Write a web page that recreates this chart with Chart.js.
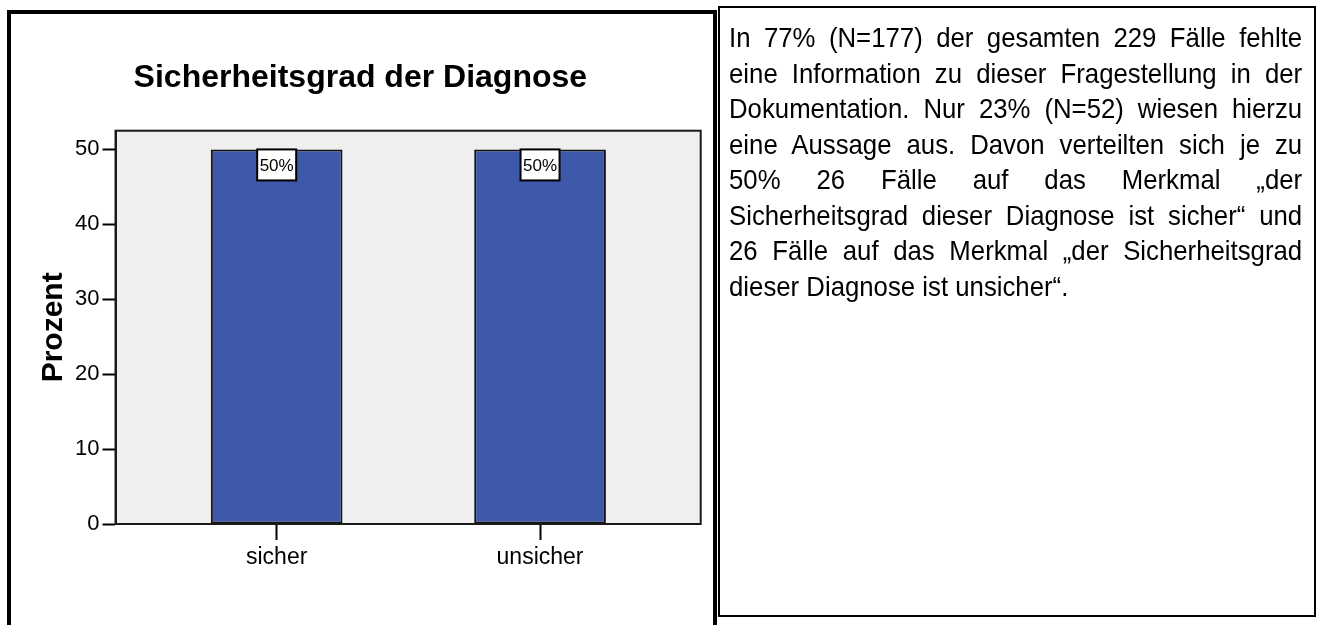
<!DOCTYPE html>
<html lang="de">
<head>
<meta charset="utf-8">
<title>Sicherheitsgrad der Diagnose</title>
<script src="https://cdn.jsdelivr.net/npm/chart.js@4/dist/chart.umd.min.js"></script>
<style>
  html, body { margin: 0; padding: 0; background: #fff; }
  body { width: 1322px; height: 625px; position: relative; overflow: hidden; font-family: 'Liberation Sans', Arial, sans-serif; }
  #chartWrap { position: absolute; left: 0; top: 0; width: 716px; height: 625px; }
  #chartFrame { position: absolute; left: 7px; top: 10px; width: 710px; height: 700px; border: 4px solid #000; box-sizing: border-box; pointer-events: none; }
  #textBox { position: absolute; left: 718px; top: 6px; width: 598px; height: 611px; border: 2px solid #000; box-sizing: border-box; }
  #textInner { position: absolute; left: 9px; top: 12px; width: 623px; transform: scaleX(0.92); transform-origin: 0 0; font-size: 28px; line-height: 35.5px; color: #000; }
  #textInner span { display: block; text-align: justify; text-align-last: justify; white-space: nowrap; }
  #textInner span.last { text-align-last: left; }
</style>
</head>
<body>
<div id="chartWrap"><canvas id="diagChart" width="716" height="625"></canvas></div>
<div id="chartFrame"></div>
<div id="textBox">
  <div id="textInner">
    <span>In 77% (N=177) der gesamten 229 Fälle fehlte</span>
    <span>eine Information zu dieser Fragestellung in der</span>
    <span>Dokumentation. Nur 23% (N=52) wiesen hierzu</span>
    <span>eine Aussage aus. Davon verteilten sich je zu</span>
    <span>50% 26 Fälle auf das Merkmal „der</span>
    <span>Sicherheitsgrad dieser Diagnose ist sicher“ und</span>
    <span>26 Fälle auf das Merkmal „der Sicherheitsgrad</span>
    <span class="last">dieser Diagnose ist unsicher“.</span>
  </div>
</div>

<script>
// Data
const categories = ['sicher', 'unsicher'];
const percentValues = [50, 50];
const valueLabels = ['50%', '50%'];
const yTicks = [0, 10, 20, 30, 40, 50];

// Grey plot background, black frame and the white "50%" boxes
const plotDecor = {
    id: 'plotDecor',
    beforeDraw(chart) {
        const { ctx, chartArea: a } = chart;
        ctx.save();
        ctx.fillStyle = '#efefef';
        ctx.fillRect(a.left, a.top, a.width, a.height);
        ctx.restore();
    },
    afterDatasetsDraw(chart) {
        const { ctx, chartArea: a } = chart;
        ctx.save();
        ctx.strokeStyle = '#1a1a1a';
        ctx.lineWidth = 2;
        ctx.strokeRect(a.left, a.top, a.width, a.height);

        // value label boxes sit on top of each bar
        const meta = chart.getDatasetMeta(0);
        meta.data.forEach(function (bar, i) {
            const w = 39, h = 31;
            const x = bar.x - w / 2;
            const y = bar.y;
            ctx.fillStyle = '#fff';
            ctx.fillRect(x, y, w, h);
            ctx.strokeStyle = '#000';
            ctx.lineWidth = 2;
            ctx.strokeRect(x, y, w, h);
            ctx.fillStyle = '#000';
            ctx.font = "17px 'Liberation Sans', Arial, sans-serif";
            ctx.textAlign = 'center';
            ctx.textBaseline = 'middle';
            ctx.fillText(valueLabels[i], bar.x, y + h / 2 + 1);
        });
        ctx.restore();
    }
};

function drawChart() {
    const ctx = document.getElementById('diagChart').getContext('2d');
    Chart.defaults.font.family = "'Liberation Sans', Arial, sans-serif";
    Chart.defaults.color = '#000';

    new Chart(ctx, {
        type: 'bar',
        data: {
            datasets: [{
                label: 'Prozent',
                data: categories.map(function (c, i) { return { x: i + 1, y: percentValues[i] }; }),
                backgroundColor: '#3e58aa',
                borderColor: '#111',
                borderWidth: 2,
                borderSkipped: false,
                barPercentage: 0.5,
                categoryPercentage: 1.0
            }]
        },
        options: {
            responsive: false,
            devicePixelRatio: 1,
            animation: false,
            layout: { padding: { left: 20, top: 13, right: 15.3, bottom: 0 } },
            plugins: {
                legend: { display: false },
                tooltip: { enabled: false },
                title: {
                    display: true,
                    text: 'Sicherheitsgrad der Diagnose',
                    color: '#000',
                    font: { size: 32, weight: 'bold' },
                    padding: { top: 46.2, bottom: 33.1 }
                }
            },
            scales: {
                x: {
                    type: 'linear',
                    offset: false,
                    min: 0.388,
                    max: 2.61,
                    afterBuildTicks: function (axis) {
                        axis.ticks = categories.map(function (c, i) { return { value: i + 1 }; });
                    },
                    afterFit: function (axis) { axis.height = 101; },
                    ticks: {
                        callback: function (value) { return categories[value - 1]; },
                        font: { size: 23 },
                        color: '#000',
                        padding: 4,
                        maxRotation: 0
                    },
                    grid: { offset: false, drawOnChartArea: false, tickLength: 16, tickWidth: 2, tickColor: '#000' },
                    border: { display: true, color: '#1a1a1a', width: 2 }
                },
                y: {
                    min: 0,
                    max: 52.5,
                    afterBuildTicks: function (axis) {
                        axis.ticks = yTicks.map(function (v) { return { value: v }; });
                    },
                    afterFit: function (axis) { axis.width = 95.5; },
                    ticks: { font: { size: 22 }, color: '#000', padding: 3 },
                    grid: { drawOnChartArea: false, tickLength: 13, tickWidth: 2, tickColor: '#000' },
                    border: { display: true, color: '#1a1a1a', width: 2 },
                    title: {
                        display: true,
                        text: 'Prozent',
                        color: '#000',
                        font: { size: 30, weight: 'bold' },
                        padding: { top: 16, bottom: 0 }
                    }
                }
            }
        },
        plugins: [plotDecor]
    });
}

document.addEventListener('DOMContentLoaded', function () {
    drawChart();
});
</script>
</body>
</html>
